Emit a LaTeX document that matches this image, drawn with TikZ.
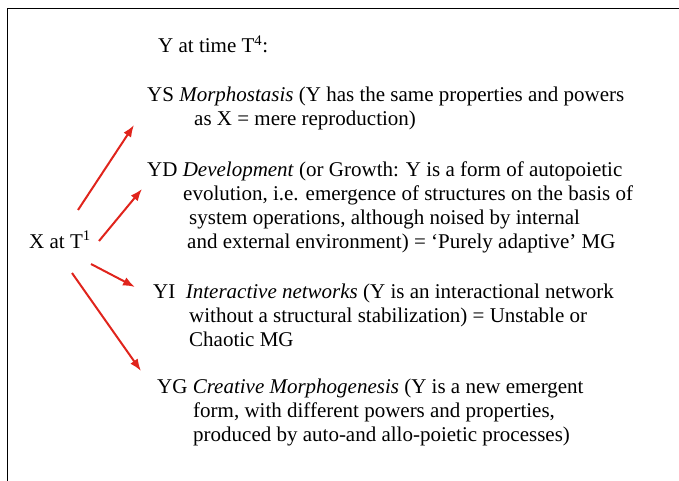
\documentclass[tikz,border=0pt]{standalone}
\usepackage{fontspec}
\setmainfont{Liberation Serif}
\usepackage{tikz}
\usetikzlibrary{arrows.meta}
\tikzset{>={Latex[length=12pt,width=9pt]}}
\definecolor{arrowred}{RGB}{224,36,28}

\begin{document}
\begin{tikzpicture}[x=1pt,y=-1pt,
	every node/.style={inner sep=0pt,anchor=base west,align=left,font=\fontsize{21}{24}\selectfont},
	redarrow/.style={->,line width=2pt,arrowred}]
			\useasboundingbox (0,0) rectangle (679,481);
			\draw[line width=1pt] (7,481) -- (7,9) -- (679,9);
%-----Nodes (base = baseline of the last line)-----
			\node (yt4) at (158,53) {Y at time T\textsuperscript{4}:};
			\node (xt1) at (29,248) {X at T\textsuperscript{1}};
			\node (ys) at (147,126) {YS \textit{Morphostasis} (Y has the same properties and powers\\
				\hspace*{47pt}as X = mere reproduction)};
			\node (yd) at (147,248) {YD \textit{Development} (or Growth: Y is a form of autopoietic\\
				\hspace*{36pt}evolution, i.e. emergence of structures on the basis of\\
				\hspace*{42pt}system operations, although noised by internal\\
				\hspace*{40pt}and external environment) = `Purely adaptive' MG};
			\node (yi) at (153,346) {YI\ \ \textit{Interactive networks} (Y is an interactional network\\
				\hspace*{36pt}without a structural stabilization) = Unstable or\\
				\hspace*{36pt}Chaotic MG};
			\node (yg) at (157,441) {YG \textit{Creative Morphogenesis} (Y is a new emergent\\
				\hspace*{36pt}form, with different powers and properties,\\
				\hspace*{36pt}produced by auto-and allo-poietic processes)};
%-----Arrow ends-----
			\coordinate (s1) at (78,210);  \coordinate (e1) at (134,125);
			\coordinate (s2) at (99,241);  \coordinate (e2) at (142,189);
			\coordinate (s3) at (91,264);  \coordinate (e3) at (135,287);
			\coordinate (s4) at (72,273);  \coordinate (e4) at (141,371);
%-----Draw the arrows here-----
			\foreach \i in {1,...,4}
				{
					\draw[redarrow] (s\i) -- (e\i);
				}
		\end{tikzpicture}
\end{document}
